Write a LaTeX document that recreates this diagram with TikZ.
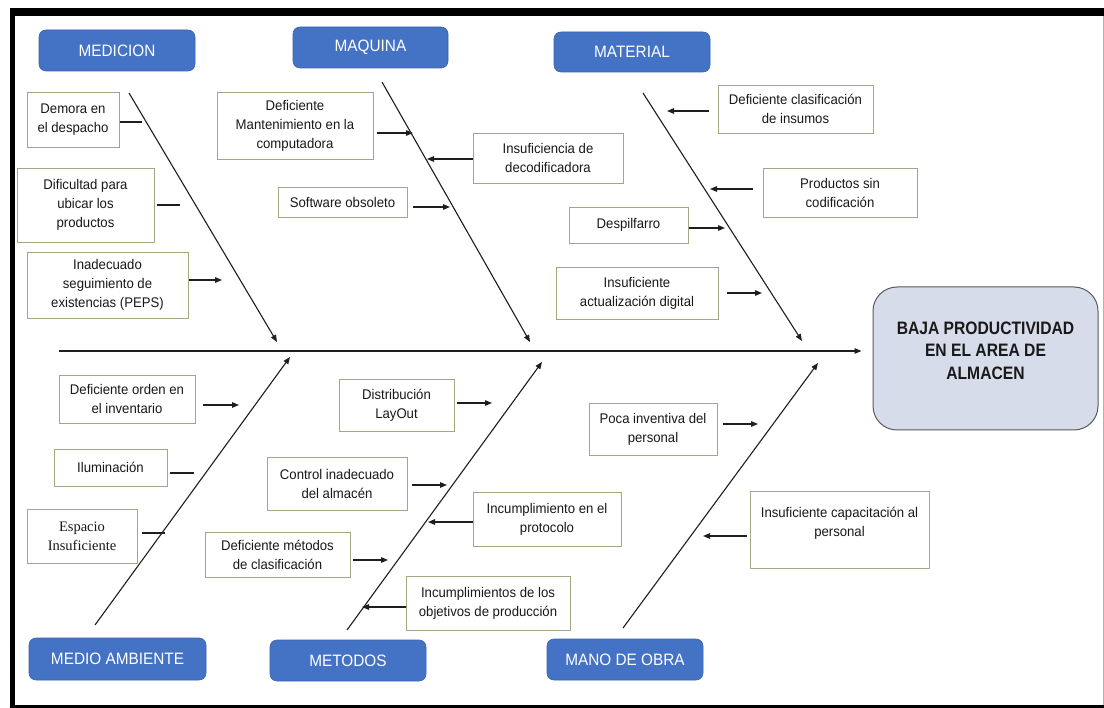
\documentclass[tikz,border=0pt]{standalone}
\usepackage{fontspec}
\usetikzlibrary{arrows.meta}
\newfontfamily\causefont{Liberation Sans}[FakeStretch=0.94]
\newfontfamily\catfont{Liberation Sans}[FakeStretch=0.93]
\newfontfamily\headfont{Liberation Sans}[FakeStretch=0.87]
\newfontfamily\serifcause{Liberation Serif}
\definecolor{catblue}{RGB}{68,114,196}
\definecolor{catedge}{RGB}{58,99,174}
\definecolor{boxedge}{RGB}{160,170,130}
\definecolor{headfill}{RGB}{214,220,234}
\definecolor{headedge}{RGB}{90,90,95}
\definecolor{inkline}{RGB}{30,30,30}
\tikzset{
  catbox/.style={draw=catedge, line width=0.6pt, fill=catblue, rounded corners=7pt,
    inner sep=0pt, text=white, font=\catfont\fontsize{16.5}{19}\selectfont},
  cause/.style={draw=boxedge, line width=0.9pt, fill=white, inner sep=2pt,
    align=center, text=black!90, font=\causefont\fontsize{14}{19}\selectfont},
  headbox/.style={draw=headedge, line width=1pt, fill=headfill, rounded corners=24pt,
    inner sep=0pt, align=center, text=black!90,
    font=\headfont\bfseries\fontsize{18}{22.5}\selectfont},
  bone/.style={draw=inkline, line width=1.1pt, -{Triangle[length=7pt,width=5.5pt]}},
  arr/.style={draw=inkline, line width=1.2pt, -{Triangle[length=7pt,width=5.5pt]}},
  tick/.style={draw=inkline, line width=1.2pt}
}
\begin{document}
\begin{tikzpicture}[x=1pt,y=-1pt]
\useasboundingbox (0,0) rectangle (1104,708);
\fill[white] (0,0) rectangle (1104,708);
% frame
\fill[black] (10,8) rectangle (1104,16);
\fill[black] (10,8) rectangle (15,708);
\fill[black] (10,705) rectangle (1104,708);
\draw[gray!60, line width=0.8pt] (1103,16) -- (1103,705);

% effect
\node[headbox, minimum width=225, minimum height=143] (head) at (985.5,358.5)
  {BAJA PRODUCTIVIDAD\\EN EL AREA DE\\ALMACEN\\[-6pt]\mbox{}};

% spine
\coordinate (sp) at (59,351);
\draw[arr] (sp) -- ([xshift=-11pt]head.west |- sp);

% category labels
\node[catbox, minimum width=156, minimum height=41] (medicion) at (117,50.5) {MEDICION};
\node[catbox, minimum width=155, minimum height=41] (maquina) at (370.5,47.5) {MAQUINA};
\node[catbox, minimum width=156, minimum height=40] (material) at (632,52) {MATERIAL};
\node[catbox, minimum width=177, minimum height=42] (ambiente) at (117.5,659) {MEDIO AMBIENTE};
\node[catbox, minimum width=156, minimum height=41] (metodos) at (348,660.5) {METODOS};
\node[catbox, minimum width=156, minimum height=41] (manoobra) at (625,659.5) {MANO DE OBRA};

% main bones
\coordinate (b1s) at (129,93);  \coordinate (b1e) at (277,342);
\coordinate (b2s) at (382,82);  \coordinate (b2e) at (530,342);
\coordinate (b3s) at (643,93);  \coordinate (b3e) at (802,341);
\coordinate (b4s) at (95,625);  \coordinate (b4e) at (290,357);
\coordinate (b5s) at (347,630); \coordinate (b5e) at (542,362);
\coordinate (b6s) at (623,628); \coordinate (b6e) at (818,363);
\draw[bone] (b1s) -- (b1e);
\draw[bone] (b2s) -- (b2e);
\draw[bone] (b3s) -- (b3e);
\draw[bone] (b4s) -- (b4e);
\draw[bone] (b5s) -- (b5e);
\draw[bone] (b6s) -- (b6e);

% causes: medicion
\node[cause, minimum width=92, minimum height=55] (c1) at (73,119.5) {Demora en\\el despacho};
\node[cause, minimum width=137, minimum height=74] (c2) at (85.5,205) {Dificultad para\\ubicar los\\productos};
\node[cause, minimum width=161, minimum height=66] (c3) at (107.5,285) {Inadecuado\\seguimiento de\\existencias (PEPS)};
% causes: maquina
\node[cause, minimum width=156, minimum height=67] (c4) at (295,125.5) {Deficiente\\Mantenimiento en la\\computadora};
\node[cause, minimum width=129, minimum height=30] (c5) at (342.5,202) {Software obsoleto};
\node[cause, minimum width=150, minimum height=50] (c6) at (548,158) {Insuficiencia de\\decodificadora};
% causes: material
\node[cause, minimum width=155, minimum height=48] (c7) at (795.5,109) {Deficiente clasificación\\de insumos};
\node[cause, minimum width=154, minimum height=49] (c8) at (840,192.5) {Productos sin\\codificación};
\node[cause, minimum width=119, minimum height=36] (c9) at (628.5,225) {Despilfarro};
\node[cause, minimum width=162, minimum height=52] (c10) at (637,293) {Insuficiente\\actualización digital};
% causes: medio ambiente
\node[cause, minimum width=136, minimum height=48] (c11) at (127,399) {Deficiente orden en\\el inventario};
\node[cause, minimum width=113, minimum height=37] (c12) at (110.5,467.5) {Iluminación};
\node[cause, minimum width=110, minimum height=54, font=\serifcause\fontsize{14.5}{19}\selectfont] (c13) at (82,536) {Espacio\\Insuficiente};
% causes: metodos
\node[cause, minimum width=115, minimum height=52] (c14) at (396.5,405) {Distribución\\LayOut};
\node[cause, minimum width=140, minimum height=53] (c15) at (337,483.5) {Control inadecuado\\del almacén};
\node[cause, minimum width=145, minimum height=45] (c16) at (277.5,554.5) {Deficiente métodos\\de clasificación};
\node[cause, minimum width=148, minimum height=54] (c17) at (547,519) {Incumplimiento en el\\protocolo};
\node[cause, minimum width=164, minimum height=54] (c18) at (488,603) {Incumplimientos de los\\objetivos de producción};
% causes: mano de obra
\node[cause, minimum width=128, minimum height=52] (c19) at (653,429) {Poca inventiva del\\personal};
\node[cause, minimum width=179, minimum height=77] (c20) at (839.5,529.5) {Insuficiente capacitación al\\personal\\[-4pt]\mbox{}};

% connector ends near the bones
\coordinate (e1) at (142,122);
\coordinate (e2) at (180,205);
\coordinate (e3) at (222,280);
\coordinate (e4) at (413,133);
\coordinate (e5) at (450,207);
\coordinate (e6) at (427,159);
\coordinate (e7) at (667,111);
\coordinate (e8) at (710,189);
\coordinate (e9) at (725,228);
\coordinate (e10) at (762,293);
\coordinate (e11) at (239,405);
\coordinate (e12) at (194,473);
\coordinate (e13) at (165,533);
\coordinate (e14) at (492,403);
\coordinate (e15) at (447,485);
\coordinate (e16) at (388,560);
\coordinate (e17) at (428,522);
\coordinate (e18) at (362,607);
\coordinate (e19) at (758,424);
\coordinate (e20) at (703,536);

\draw[tick] ([xshift=1pt]c1.east |- e1) -- (e1);
\draw[tick] ([xshift=3pt]c2.east |- e2) -- (e2);
\draw[arr] ([xshift=1pt]c3.east |- e3) -- (e3);
\draw[arr] ([xshift=4pt]c4.east |- e4) -- (e4);
\draw[arr] ([xshift=6pt]c5.east |- e5) -- (e5);
\draw[arr] (c6.west |- e6) -- (e6);
\draw[arr] ([xshift=-9pt]c7.west |- e7) -- (e7);
\draw[arr] ([xshift=-10pt]c8.west |- e8) -- (e8);
\draw[arr] ([xshift=1pt]c9.east |- e9) -- (e9);
\draw[arr] ([xshift=9pt]c10.east |- e10) -- (e10);
\draw[arr] ([xshift=8pt]c11.east |- e11) -- (e11);
\draw[tick] ([xshift=3pt]c12.east |- e12) -- (e12);
\draw[tick] ([xshift=5pt]c13.east |- e13) -- (e13);
\draw[arr] ([xshift=3pt]c14.east |- e14) -- (e14);
\draw[arr] ([xshift=5pt]c15.east |- e15) -- (e15);
\draw[arr] ([xshift=3pt]c16.east |- e16) -- (e16);
\draw[arr] (c17.west |- e17) -- (e17);
\draw[arr] (c18.west |- e18) -- (e18);
\draw[arr] ([xshift=6pt]c19.east |- e19) -- (e19);
\draw[arr] ([xshift=-3pt]c20.west |- e20) -- (e20);
\end{tikzpicture}
\end{document}
